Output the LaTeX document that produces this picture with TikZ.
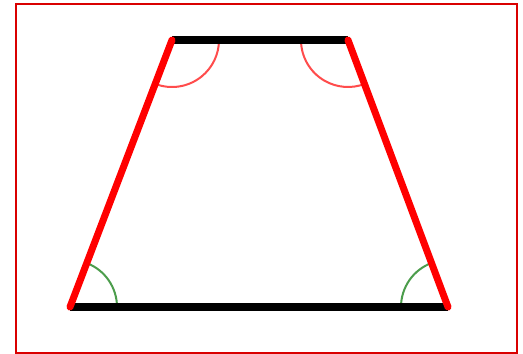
\documentclass[tikz,border=0pt]{standalone}
\begin{document}
\begin{tikzpicture}[x=1pt,y=1pt,
  frame/.style={draw=red!85!black,line width=2.2pt},
  base/.style={draw=black,line width=8.5pt},
  leg/.style={draw=red,line width=7pt,line cap=round},
  redarc/.style={draw=red!70!white,line width=2pt},
  greenarc/.style={draw=green!45!black!70!white,line width=2pt}]
\useasboundingbox (0,0) rectangle (523,354);
\fill[white] (0,0) rectangle (523,354);
\draw[frame] (16,1) rectangle (517,350);
\coordinate (TL) at (172,314);
\coordinate (TR) at (348,314);
\coordinate (BL) at (70,47);
\coordinate (BR) at (448,47);
% angle arcs
\draw[redarc] ([shift={(249:47)}]TL) arc[start angle=249,end angle=360,radius=47];
\draw[redarc] ([shift={(180:47)}]TR) arc[start angle=180,end angle=290.5,radius=47];
\draw[greenarc] ([shift={(0:47)}]BL) arc[start angle=0,end angle=69,radius=47];
\draw[greenarc] ([shift={(110.5:47)}]BR) arc[start angle=110.5,end angle=180,radius=47];
% bases
\draw[base] (TL) -- (TR);
\draw[base] (BL) -- (BR);
% legs
\draw[leg] (BL) -- (TL);
\draw[leg] (BR) -- (TR);
\end{tikzpicture}
\end{document}
